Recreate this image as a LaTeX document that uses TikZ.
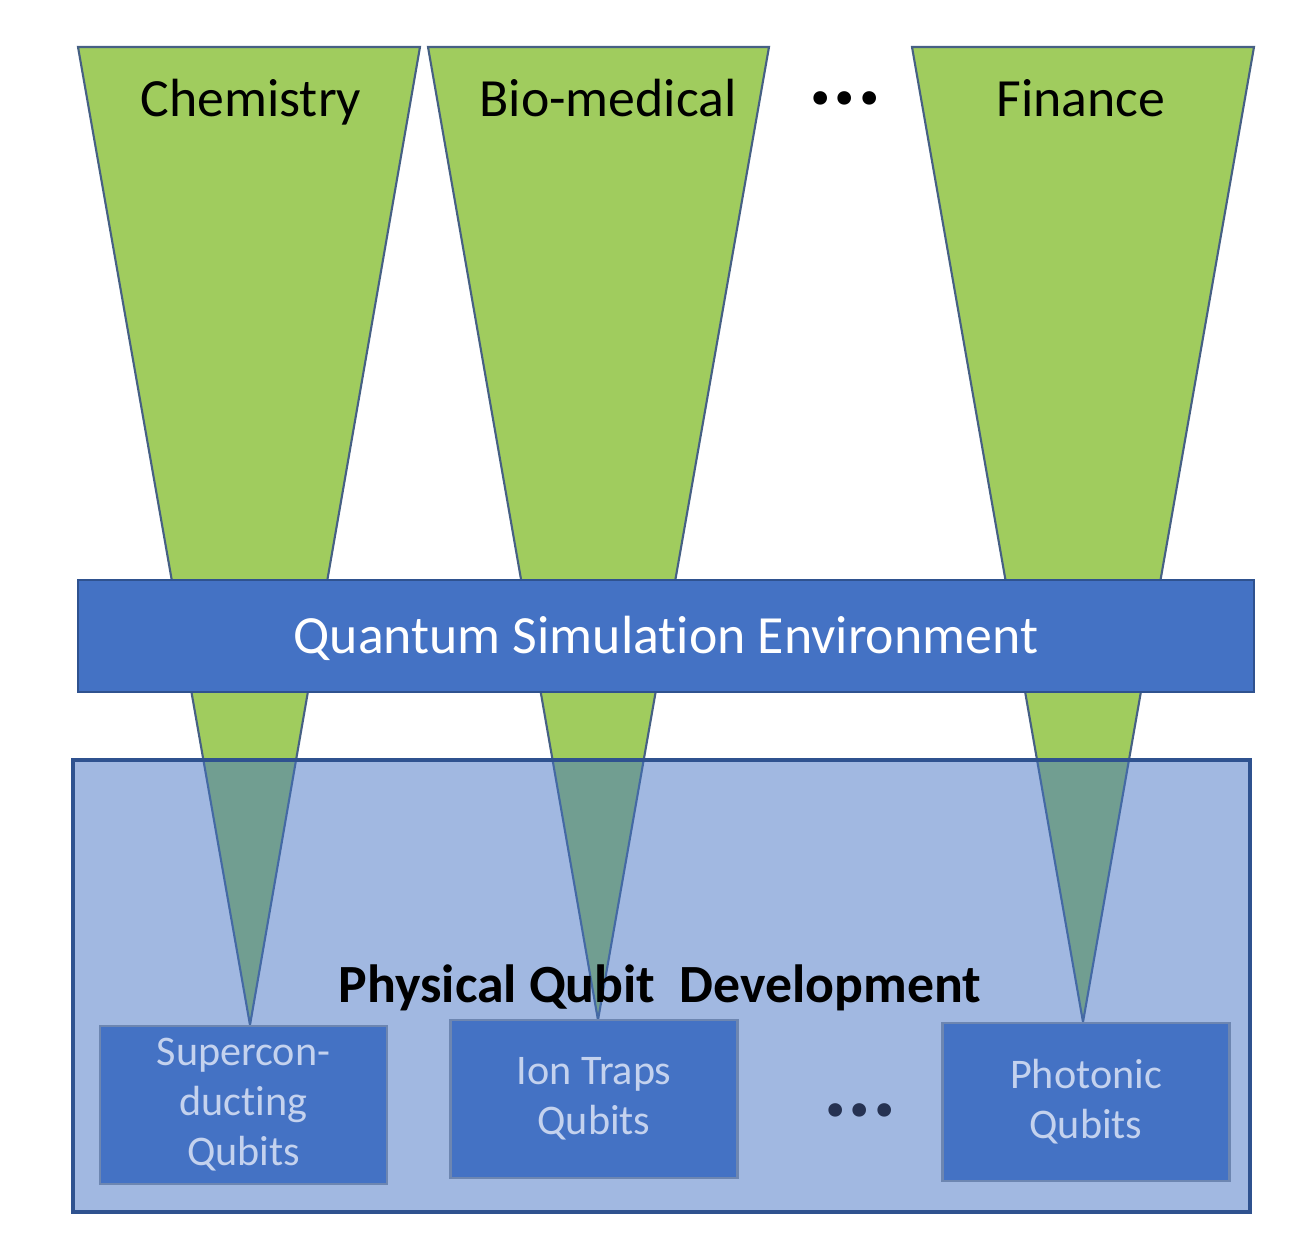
\documentclass[tikz,border=0pt]{standalone}
\usepackage{fontspec}
\setmainfont{Carlito}[Ligatures=CommonOff]
\usetikzlibrary{positioning}
\definecolor{leafgreen}{RGB}{160,204,94}
\definecolor{officeblue}{RGB}{68,114,196}
\definecolor{bandedge}{RGB}{47,82,143}
\definecolor{spikeedge}{RGB}{70,96,132}
\definecolor{qubittext}{RGB}{196,210,238}
\definecolor{dotnavy}{RGB}{38,50,82}
\tikzset{%
		spike/.style={fill=leafgreen,draw=spikeedge,line width=0.6pt},
		band/.style={fill=officeblue,draw=bandedge,line width=0.8pt},
		platform/.style={fill=officeblue,fill opacity=0.5,draw=bandedge,line width=0.9pt},
		qubitbox/.style={fill=officeblue,draw=bandedge!70,line width=0.6pt,text=qubittext,
			minimum width=2.87cm,minimum height=1.58cm,align=center,
			font=\fontsize{12}{14.2}\selectfont},
		fieldlabel/.style={font=\fontsize{15.3}{18}\selectfont,anchor=base},
		dotsgap/.style={font=\fontsize{26}{30}\bfseries}
	}
\newcommand{\spike}[3]{% left x, right x, tip
		\filldraw[spike] (#1,-0.47) -- (#2,-0.47) -- (#3) -- cycle;
		}

\begin{document}
\begin{tikzpicture}
    \useasboundingbox (0,0) rectangle (13.1,-12.36);
    % tips of the application cones
    \coordinate (tip1) at (2.50,-10.25);
    \coordinate (tip2) at (5.98,-10.20);
    \coordinate (tip3) at (10.83,-10.22);
    \spike{0.78}{4.20}{tip1}
    \spike{4.28}{7.69}{tip2}
    \spike{9.12}{12.54}{tip3}
    \node[fieldlabel] (chem) at (2.51,-1.17) {Chemistry};
    \node[fieldlabel] (bio) at (6.08,-1.17) {Bio-medical};
    \node[fieldlabel] (fin) at (10.81,-1.17) {Finance};
    \node[dotsgap] (topdots) at (8.45,-0.98) {...};
    % simulation layer
    \filldraw[band] (0.78,-5.80) rectangle (12.54,-6.92);
    \node[fieldlabel,text=white] (qse) at (6.66,-6.54) {Quantum Simulation Environment};
    % hardware layer
    \filldraw[platform] (0.73,-7.60) rectangle (12.50,-12.12);
    \node[fieldlabel,font=\fontsize{15.3}{18}\bfseries] (phys) at (6.60,-10.03) {Physical Qubit\ \ Development};
    \node[qubitbox] (sc) at (2.435,-11.05) {Supercon-\\ducting\\Qubits};
    \node[qubitbox] (ion) at (5.94,-10.99) {Ion Traps\\Qubits};
    \node[qubitbox] (pho) at (10.86,-11.02) {Photonic\\Qubits};
    \node[dotsgap,text=dotnavy] (botdots) at (8.60,-11.10) {...};
\end{tikzpicture}
\end{document}
